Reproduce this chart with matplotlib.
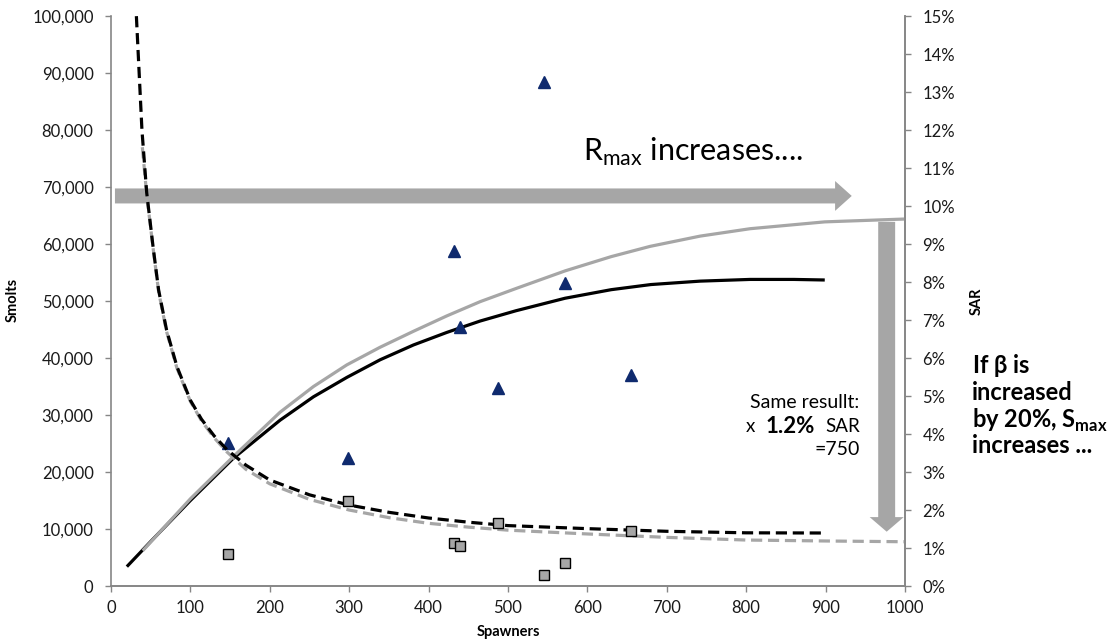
import matplotlib
matplotlib.use("Agg")
import matplotlib.pyplot as plt
from matplotlib.ticker import FuncFormatter, MultipleLocator

plt.rcParams['font.family'] = ['Lato', 'DejaVu Sans']
plt.rcParams['mathtext.fontset'] = 'custom'
plt.rcParams['mathtext.rm'] = 'Lato'
plt.rcParams['mathtext.bf'] = 'Lato:bold'

# observed points (spawners, smolts, SAR %)
spawners = [148, 299, 432, 440, 488, 546, 572, 655]
smolts = [25100, 22400, 58800, 45500, 34700, 88500, 53200, 37000]
sar_obs = [0.83, 2.24, 1.12, 1.06, 1.65, 0.29, 0.60, 1.45]

# stock-recruit curve, base case
sr_x = [20, 50, 100, 154, 213, 255, 297, 339, 381, 423, 465, 510, 572, 630, 680,
        742, 805, 860, 899]
sr_base = [3400, 7800, 15000, 22400, 29100, 33200, 36600, 39700, 42300, 44500, 46500,
           48300, 50500, 52000, 52900, 53500, 53800, 53800, 53700]

# stock-recruit curve, Rmax increased
sr_up_x = [40, 100, 154, 213, 255, 297, 339, 381, 423, 465, 510, 572, 630, 679, 742,
           805, 899, 1000]
sr_up = [6200, 15300, 22700, 30500, 35000, 38800, 41900, 44700, 47400, 49900, 52200,
         55300, 57800, 59600, 61400, 62700, 63900, 64400]

# SAR needed (%)
sar_x = [32, 39, 45, 53, 60, 70, 83, 100, 114, 130, 146, 170, 200, 250, 300, 350, 400,
         450, 500, 600, 700, 800, 900]
sar_base = [15.0, 12.0, 10.35, 8.93, 7.79, 6.74, 5.78, 4.89, 4.39, 3.95, 3.59, 3.18,
            2.79, 2.40, 2.13, 1.94, 1.79, 1.68, 1.59, 1.51, 1.44, 1.40, 1.395]
sar_up_x = [39.5, 45, 53, 60, 70, 83, 100, 114, 130, 146, 170, 200, 250, 300, 350, 400,
            450, 500, 600, 700, 800, 900, 1000]
sar_up = [11.55, 10.3, 8.9, 7.75, 6.7, 5.74, 4.86, 4.35, 3.9, 3.53, 3.07, 2.69, 2.28,
          2.0, 1.80, 1.65, 1.55, 1.47, 1.37, 1.28, 1.21, 1.185, 1.165]

grey = '#A6A6A6'
axcol = '#868686'
navy = '#0F2A6E'

fig = plt.figure(figsize=(11.12, 6.41), dpi=100)
ax = fig.add_axes([0.0998, 0.0858, 0.714, 0.889])
ax2 = ax.twinx()

ax.plot(sr_x, sr_base, color='black', lw=2.3, solid_capstyle='butt', zorder=2)
ax.plot(sr_up_x, sr_up, color=grey, lw=2.3, solid_capstyle='butt', zorder=3)
ax.plot(spawners, smolts, linestyle='none', marker='^', ms=9, color=navy, zorder=4)

ax2.plot(sar_up_x, sar_up, color=grey, lw=2.3, dashes=(3.5, 1.8), zorder=2)
ax2.plot(sar_x, sar_base, color='black', lw=2.3, dashes=(3.5, 1.8), zorder=3)
ax2.plot(spawners, sar_obs, linestyle='none', marker='s', ms=7.5,
         markerfacecolor=grey, markeredgecolor='black', markeredgewidth=1.0, zorder=4)

ax.set_xlim(0, 1000)
ax.set_ylim(0, 100000)
ax2.set_ylim(0, 15)
ax.xaxis.set_major_locator(MultipleLocator(100))
ax.yaxis.set_major_locator(MultipleLocator(10000))
ax2.yaxis.set_major_locator(MultipleLocator(1))
ax.yaxis.set_major_formatter(FuncFormatter(lambda v, p: f'{v:,.0f}'))
ax2.yaxis.set_major_formatter(FuncFormatter(lambda v, p: f'{v:.0f}%'))

for a in (ax, ax2):
    a.spines['top'].set_visible(False)
    for s in ('left', 'right', 'bottom'):
        a.spines[s].set_color(axcol)
        a.spines[s].set_linewidth(1.2)
    a.tick_params(colors=axcol, labelcolor='#1a1a1a', labelsize=12, length=4, width=1.0)
ax.tick_params(axis='x', pad=6)
ax.tick_params(axis='y', pad=8.5)
ax2.tick_params(axis='y', pad=8.5)
ax2.spines['left'].set_visible(False)

ax.set_ylabel('Smolts', fontsize=10.5, fontweight='bold')
ax.yaxis.set_label_coords(-0.115, 0.502)
ax2.set_ylabel('SAR', fontsize=10.5, fontweight='bold')
ax2.yaxis.set_label_coords(1.082, 0.5)
ax.set_xlabel('Spawners', fontsize=10.5, fontweight='bold')
ax.xaxis.set_label_coords(0.5, -0.068)

# arrows
ax.annotate('', xy=(933, 68450), xytext=(5, 68450), annotation_clip=False,
            arrowprops=dict(arrowstyle='simple,head_length=12,head_width=21.5,tail_width=10.8',
                            mutation_scale=1, color=grey, shrinkA=0, shrinkB=0, lw=0))
ax.annotate('', xy=(977, 9530), xytext=(977, 63900), annotation_clip=False,
            arrowprops=dict(arrowstyle='simple,head_length=10.5,head_width=24.5,tail_width=12.2',
                            mutation_scale=1, color=grey, shrinkA=0, shrinkB=0, lw=0))

ax.text(594, 76100, r'R$_{\mathrm{max}}$ increases....', fontsize=22, va='center', ha='left')

ax.text(943, 32280, 'Same resullt:', fontsize=14, ha='right', va='center')
ax.text(943, 28000, 'SAR', fontsize=13.5, ha='right', va='center')
ax.text(886, 28000, '1.2%', fontsize=16, fontweight='bold', ha='right', va='center')
ax.text(811, 28000, 'x', fontsize=13.5, ha='right', va='center')
ax.text(943, 24000, '=750', fontsize=14, ha='right', va='center')

tx = 1084
for yv, s in [(38700, r'If $\mathbf{\beta}$ is'), (34000, 'increased'),
              (29100, r'by 20%, S$_{\mathbf{max}}$'), (24600, 'increases ...')]:
    ax.text(tx, yv, s, fontsize=17, fontweight='bold', ha='left', va='center')

fig.savefig('out.png', dpi=100)
